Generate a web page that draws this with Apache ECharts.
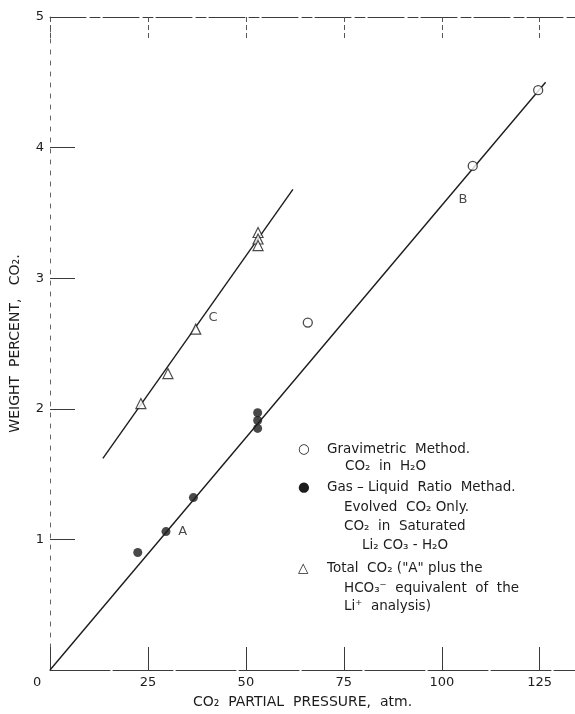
<!DOCTYPE html>
<html>
<head>
<meta charset="utf-8">
<script src="https://cdn.jsdelivr.net/npm/echarts@6/dist/echarts.min.js"></script>
<style>
  html, body { margin: 0; padding: 0; background: #fff; }
  #chart { width: 575px; height: 714px; }
</style>
</head>
<body>
<div id="chart"></div>
<script>
// CO2 partial pressure (atm) vs weight percent CO2
const gravimetric = [[65.8, 2.66], [107.9, 3.86], [124.6, 4.44]];
const gasLiquid = [[22.4, 0.90], [29.6, 1.06], [36.6, 1.32], [53.0, 1.97], [53.0, 1.91], [53.0, 1.85]];
const totalCO2 = [[23.2, 2.04], [30.1, 2.27], [37.2, 2.61], [53.1, 3.35], [53.1, 3.30], [53.1, 3.25]];
const lineAB = [[0, 0], [126.5, 4.5]];
const lineC = [[13.5, 1.62], [62, 3.68]];
const curveLabels = [[33.9, 1.06, 'A'], [105.4, 3.60, 'B'], [41.6, 2.70, 'C']];
const xTickValues = [25, 50, 75, 100, 125];
const yTickValues = [1, 2, 3, 4, 5];

const FONT = 'DejaVu Sans';
const INK = '#1c1c1c';
const AXIS = '#3a3a3a';

const chart = echarts.init(document.getElementById('chart'));

const legendLines = [
  { x: 298, y: 451, text: '○' },
  { x: 327, y: 451, text: 'Gravimetric  Method.' },
  { x: 345, y: 468, text: 'CO₂  in  H₂O' },
  { x: 298, y: 489, text: '●' },
  { x: 327, y: 489, text: 'Gas – Liquid  Ratio  Methad.' },
  { x: 344, y: 509, text: 'Evolved  CO₂ Only.' },
  { x: 344, y: 528, text: 'CO₂  in  Saturated' },
  { x: 362, y: 547, text: 'Li₂ CO₃ - H₂O' },
  { x: 298, y: 570, text: '△' },
  { x: 327, y: 570, text: 'Total  CO₂ ("A" plus the' },
  { x: 344, y: 590, text: 'HCO₃⁻  equivalent  of  the' },
  { x: 344, y: 608, text: 'Li⁺  analysis)' }
];

const option = {
  backgroundColor: '#fff',
  animation: false,
  grid: { left: 50, right: 0, top: 17, bottom: 44 },
  xAxis: [
    {
      type: 'value',
      min: 0,
      max: 134,
      interval: 25,
      position: 'bottom',
      name: 'CO₂  PARTIAL  PRESSURE,  atm.',
      nameLocation: 'middle',
      nameGap: 25,
      nameTextStyle: { fontFamily: FONT, fontSize: 14, color: INK, padding: [0, 20, 0, 0] },
      axisLine: { show: true, onZero: false, lineStyle: { color: AXIS, width: 1, type: [60, 3] } },
      axisTick: { show: true, inside: true, length: 23, lineStyle: { color: AXIS } },
      axisLabel: {
        fontFamily: FONT, fontSize: 13, color: INK, margin: 6,
        showMaxLabel: false,
        formatter: v => (xTickValues.includes(v) ? String(v) : '')
      },
      splitLine: { show: false }
    },
    {
      type: 'value',
      min: 0,
      max: 134,
      interval: 25,
      position: 'top',
      axisLine: { show: true, onZero: false, lineStyle: { color: AXIS, width: 1, type: [36, 4, 10, 3] } },
      axisTick: { show: true, inside: true, length: 23, lineStyle: { color: '#555', type: [5, 3] } },
      axisLabel: { show: false },
      splitLine: { show: false }
    }
  ],
  yAxis: {
    type: 'value',
    min: 0,
    max: 5,
    interval: 1,
    name: 'WEIGHT  PERCENT,   CO₂.',
    nameLocation: 'middle',
    nameGap: 28,
    nameTextStyle: { fontFamily: FONT, fontSize: 14, color: INK, padding: [0, 0, 0, 0] },
    axisLine: { show: true, onZero: false, lineStyle: { color: '#666', width: 1, type: [4, 7] } },
    axisTick: { show: true, inside: true, length: 25, lineStyle: { color: AXIS } },
    axisLabel: {
      fontFamily: FONT, fontSize: 13, color: INK, margin: 6,
      formatter: v => (yTickValues.includes(v) ? String(v) : '')
    },
    splitLine: { show: false }
  },
  graphic: [
    {
      type: 'text', left: 33, top: 676,
      style: { text: '0', fontFamily: FONT, fontSize: 13, fill: INK }
    }
  ].concat(legendLines.map(l => ({
    type: 'text',
    left: l.x,
    top: l.y - 9,
    style: { text: l.text, fontFamily: FONT, fontSize: 13.5, fill: INK }
  }))),
  series: [
    {
      name: 'Line A-B',
      type: 'line',
      data: lineAB,
      showSymbol: false,
      lineStyle: { color: INK, width: 1.4 },
      z: 1
    },
    {
      name: 'Line C',
      type: 'line',
      data: lineC,
      showSymbol: false,
      lineStyle: { color: INK, width: 1.4 },
      z: 1
    },
    {
      name: 'Gravimetric Method',
      type: 'scatter',
      data: gravimetric,
      symbol: 'circle',
      symbolSize: 9,
      itemStyle: { color: '#fff', borderColor: INK, borderWidth: 1.3 },
      z: 3
    },
    {
      name: 'Gas-Liquid Ratio Method',
      type: 'scatter',
      data: gasLiquid,
      symbol: 'circle',
      symbolSize: 9,
      itemStyle: { color: INK },
      z: 3
    },
    {
      name: 'Total CO2',
      type: 'scatter',
      data: totalCO2,
      symbol: 'triangle',
      symbolSize: 10,
      itemStyle: { color: '#fff', borderColor: INK, borderWidth: 1.2 },
      z: 3
    },
    {
      name: 'Curve labels',
      type: 'scatter',
      data: curveLabels,
      symbolSize: 0,
      label: {
        show: true,
        position: 'inside',
        formatter: p => p.data[2],
        fontFamily: FONT,
        fontSize: 13,
        color: INK
      },
      silent: true
    }
  ]
};

chart.setOption(option);
</script>
</body>
</html>
